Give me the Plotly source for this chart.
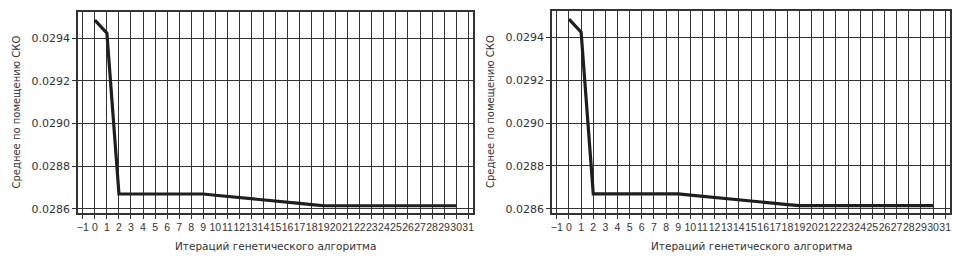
import plotly.graph_objects as go

iterations = list(range(0, 31))
mean_rmse = [0.029484, 0.029423, 0.028670, 0.028670, 0.028670, 0.028670, 0.028670,
             0.028670, 0.028670, 0.028670, 0.028664, 0.028659, 0.028653, 0.028647,
             0.028642, 0.028637, 0.028631, 0.028626, 0.028620, 0.028615, 0.028615,
             0.028615, 0.028615, 0.028615, 0.028615, 0.028615, 0.028615, 0.028615,
             0.028615, 0.028615, 0.028615]
x_ticks = list(range(-1, 32))
x_ticklabels = ["\u2212" + str(-v) if v < 0 else str(v) for v in x_ticks]
y_ticks = [0.0286, 0.0288, 0.0290, 0.0292, 0.0294]
y_ticklabels = ["0.0286", "0.0288", "0.0290", "0.0292", "0.0294"]
x_title = "Итераций генетического алгоритма"
y_title = "Среднее по помещению СКО"

W, H = 963, 261
OFF = 8  # page body margin
panels = [(78, 473, 12, 213), (552, 950, 11, 213)]

fig = go.Figure()
txt = "#333333"
for i, (l, r, t, b) in enumerate(panels):
    l, r, t, b = l - OFF, r - OFF, t - OFF, b - OFF
    sfx = "" if i == 0 else str(i + 1)
    fig.add_trace(go.Scatter(x=iterations, y=mean_rmse, mode="lines",
                             line=dict(color="#1e1e1e", width=3.2),
                             xaxis="x" + sfx, yaxis="y" + sfx, showlegend=False))
    common = dict(showline=True, linecolor="#333333", linewidth=1.5, mirror=True,
                  showgrid=True, gridcolor="#333333", gridwidth=1.3, zeroline=False,
                  ticks="outside", ticklen=4, tickcolor="#333333", automargin=False)
    fig.layout["xaxis" + sfx] = dict(domain=[l / W, r / W], anchor="y" + sfx,
                                     range=[-1.4, 31.4], tickmode="array",
                                     tickvals=x_ticks, ticktext=x_ticklabels,
                                     tickangle=0,
                                     tickfont=dict(family="Liberation Sans", size=10.5, color=txt),
                                     **common)
    fig.layout["yaxis" + sfx] = dict(domain=[1 - b / H, 1 - t / H], anchor="x" + sfx,
                                     range=[0.028581, 0.029522], tickmode="array",
                                     tickvals=y_ticks, ticktext=y_ticklabels,
                                     tickfont=dict(family="DejaVu Sans", size=11, color=txt),
                                     **common)
    fig.add_annotation(x=(l + r) / 2 / W, y=1 - (246 - OFF) / H, xref="paper", yref="paper",
                       xanchor="center", yanchor="middle",
                       text=x_title, showarrow=False,
                       font=dict(family="DejaVu Sans", size=10.5, color=txt))
    fig.add_annotation(x=(l - 62) / W, y=1 - (t + b) / 2 / H, xref="paper", yref="paper",
                       xanchor="center", yanchor="middle",
                       text=y_title, showarrow=False, textangle=-90,
                       font=dict(family="DejaVu Sans", size=10, color=txt))

fig.update_layout(width=W, height=H, margin=dict(l=0, r=0, t=0, b=0),
                  template="none",
                  paper_bgcolor="white", plot_bgcolor="white")
fig.write_html("out.html")
